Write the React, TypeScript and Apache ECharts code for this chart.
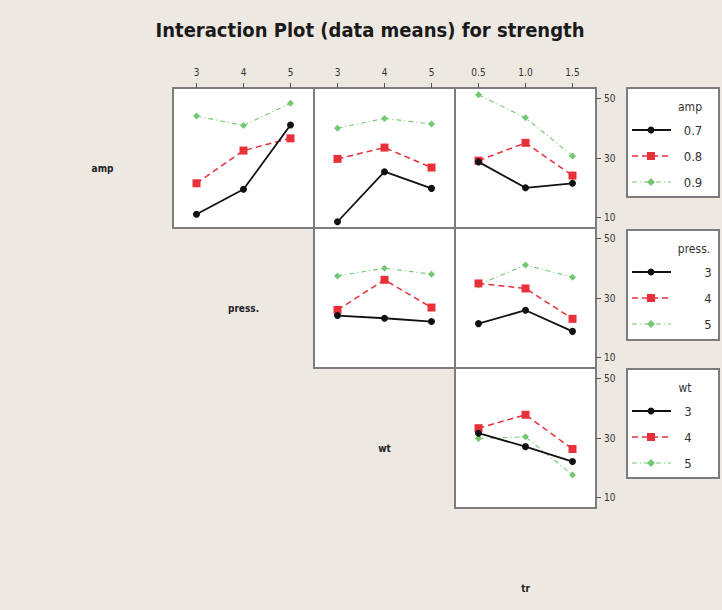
import React, { useEffect, useRef } from "react";
import * as echarts from "echarts";

// ---- data ----
const pressLevels = [3, 4, 5];
const wtLevels = [3, 4, 5];
const trLevels = [0.5, 1.0, 1.5];
const yTicks = [10, 30, 50];

const ampNames = ["0.7", "0.8", "0.9"];
const pressNames = ["3", "4", "5"];
const wtNames = ["3", "4", "5"];

// means of strength: rows = legend factor level, cols = x factor level
const ampVsPress = [
  [11.1, 19.5, 41.1],
  [21.5, 32.5, 36.6],
  [44.1, 40.9, 48.4],
];
const ampVsWt = [
  [8.6, 25.4, 19.8],
  [29.7, 33.5, 26.8],
  [40.0, 43.3, 41.4],
];
const ampVsTr = [
  [28.7, 20.0, 21.5],
  [29.1, 35.1, 24.1],
  [51.2, 43.5, 30.7],
];
const pressVsWt = [
  [24.1, 23.2, 22.1],
  [26.0, 36.1, 26.8],
  [37.4, 40.0, 38.0],
];
const pressVsTr = [
  [21.4, 25.9, 18.8],
  [34.9, 33.2, 23.0],
  [34.4, 41.1, 37.0],
];
const wtVsTr = [
  [31.6, 27.1, 22.1],
  [33.3, 37.8, 26.3],
  [29.8, 30.4, 17.6],
];

const title = "Interaction Plot (data means) for strength";
const factorLabels = ["amp", "press.", "wt", "tr"];

// ---- styles ----
const BG = "#ede8e2";
const NARROW = "'Liberation Sans Narrow', 'DejaVu Sans Condensed', 'Open Sans', sans-serif";
const levelStyles = [
  { color: "#111111", symbol: "circle", size: 7, width: 1.8, type: "solid" as any },
  { color: "#e8303a", symbol: "rect", size: 8, width: 1.5, type: [6, 4] as any },
  { color: "#72c872", symbol: "diamond", size: 7, width: 1.1, type: [5, 3, 1, 3] as any },
];

const COL_LEFT = [173, 314, 455];
const ROW_TOP = [88, 228, 368];
const PW = 141;
const PH = 140;
const YMIN = 6.5;
const YMAX = 53.5;

export default function App() {
  const ref = useRef<HTMLDivElement>(null);
  useEffect(() => {
    if (!ref.current) return;
    const chart = echarts.init(ref.current, undefined, { renderer: "svg" });

    const panels = [
      { row: 0, col: 0, xs: pressLevels, data: ampVsPress, xmin: 2.5, xmax: 5.5, dec: 0 },
      { row: 0, col: 1, xs: wtLevels, data: ampVsWt, xmin: 2.5, xmax: 5.5, dec: 0 },
      { row: 0, col: 2, xs: trLevels, data: ampVsTr, xmin: 0.25, xmax: 1.75, dec: 1 },
      { row: 1, col: 1, xs: wtLevels, data: pressVsWt, xmin: 2.5, xmax: 5.5, dec: 0 },
      { row: 1, col: 2, xs: trLevels, data: pressVsTr, xmin: 0.25, xmax: 1.75, dec: 1 },
      { row: 2, col: 2, xs: trLevels, data: wtVsTr, xmin: 0.25, xmax: 1.75, dec: 1 },
    ];

    const grids: any[] = [];
    const xAxes: any[] = [];
    const yAxes: any[] = [];
    const series: any[] = [];

    panels.forEach((p, i) => {
      grids.push({
        left: COL_LEFT[p.col],
        top: ROW_TOP[p.row],
        width: PW,
        height: PH,
        show: true,
        backgroundColor: "#ffffff",
        borderColor: "#7d7d7d",
        borderWidth: 2,
      });
      const top = p.row === 0;
      xAxes.push({
        type: "value",
        gridIndex: i,
        min: p.xmin,
        max: p.xmax,
        position: "top",
        axisLine: { show: false },
        splitLine: { show: false },
        axisTick: {
          show: top,
          length: 5,
          customValues: p.xs,
          lineStyle: { color: "#555", width: 1 },
        },
        axisLabel: {
          show: top,
          customValues: p.xs,
          margin: 11,
          fontSize: 10,
          color: "#333",
          fontFamily: NARROW,
          formatter: (v: number) => v.toFixed(p.dec),
        },
      });
      const right = p.col === 2;
      yAxes.push({
        type: "value",
        gridIndex: i,
        min: YMIN,
        max: YMAX,
        position: "right",
        axisLine: { show: false },
        splitLine: { show: false },
        axisTick: {
          show: right,
          length: 5,
          customValues: yTicks,
          lineStyle: { color: "#555", width: 1 },
        },
        axisLabel: {
          show: right,
          customValues: yTicks,
          margin: 8,
          fontSize: 10,
          color: "#333",
          fontFamily: NARROW,
        },
      });
      p.data.forEach((vals, k) => {
        const st = levelStyles[k];
        series.push({
          type: "line",
          xAxisIndex: i,
          yAxisIndex: i,
          data: p.xs.map((x, j) => [x, vals[j]]),
          symbol: st.symbol,
          symbolSize: st.size,
          itemStyle: { color: st.color },
          lineStyle: { color: st.color, width: st.width, type: st.type },
          z: 10 - k,
        });
      });
    });

    const graphics: any[] = [];
    // diagonal factor labels
    factorLabels.forEach((lab, i) => {
      graphics.push({
        type: "text",
        x: COL_LEFT[0] - PW / 2 + i * PW,
        y: ROW_TOP[0] + PH / 2 + 10 + i * PH,
        style: {
          text: lab,
          fill: "#222",
          font: `bold 10px ${NARROW}`,
          textAlign: "center",
          textVerticalAlign: "middle",
        },
      });
    });

    // legends
    const legends = [
      { title: "amp", names: ampNames, top: 88, h: 109, titleX: 690, labelX: 693 },
      { title: "press.", names: pressNames, top: 230, h: 110, titleX: 694, labelX: 708 },
      { title: "wt", names: wtNames, top: 369, h: 109, titleX: 685, labelX: 688 },
    ];
    legends.forEach((lg) => {
      graphics.push({
        type: "rect",
        shape: { x: 627, y: lg.top, width: 92, height: lg.h },
        style: { fill: "#ffffff", stroke: "#7d7d7d", lineWidth: 2 },
      });
      graphics.push({
        type: "text",
        x: lg.titleX,
        y: lg.top + 19,
        style: {
          text: lg.title,
          fill: "#333",
          font: `12px ${NARROW}`,
          textAlign: "center",
          textVerticalAlign: "middle",
        },
      });
      lg.names.forEach((nm, k) => {
        const st = levelStyles[k];
        const yy = lg.top + 42 + k * 26;
        graphics.push({
          type: "line",
          shape: { x1: 632, y1: yy, x2: 671, y2: yy },
          style: { stroke: st.color, lineWidth: st.width, lineDash: st.type === "solid" ? null : st.type },
        });
        if (st.symbol === "circle") {
          graphics.push({ type: "circle", shape: { cx: 651, cy: yy, r: 3.5 }, style: { fill: st.color } });
        } else if (st.symbol === "rect") {
          graphics.push({ type: "rect", shape: { x: 647, y: yy - 4, width: 8, height: 8 }, style: { fill: st.color } });
        } else {
          graphics.push({
            type: "polygon",
            shape: { points: [[651, yy - 4], [655, yy], [651, yy + 4], [647, yy]] },
            style: { fill: st.color },
          });
        }
        graphics.push({
          type: "text",
          x: lg.labelX,
          y: yy,
          style: {
            text: nm,
            fill: "#333",
            font: `13px ${NARROW}`,
            textAlign: "center",
            textVerticalAlign: "middle",
          },
        });
      });
    });

    chart.setOption({
      animation: false,
      backgroundColor: BG,
      title: {
        text: title,
        left: 365,
        top: 15,
        textAlign: "center",
        textStyle: { fontSize: 20, fontWeight: "bold", color: "#1a1a1a", fontFamily: NARROW },
      },
      grid: grids,
      xAxis: xAxes,
      yAxis: yAxes,
      series,
      graphic: graphics,
    });
    return () => chart.dispose();
  }, []);
  return (
    <div
      ref={ref}
      style={{ position: "fixed", left: 0, top: 0, width: 722, height: 610 }}
    />
  );
}
